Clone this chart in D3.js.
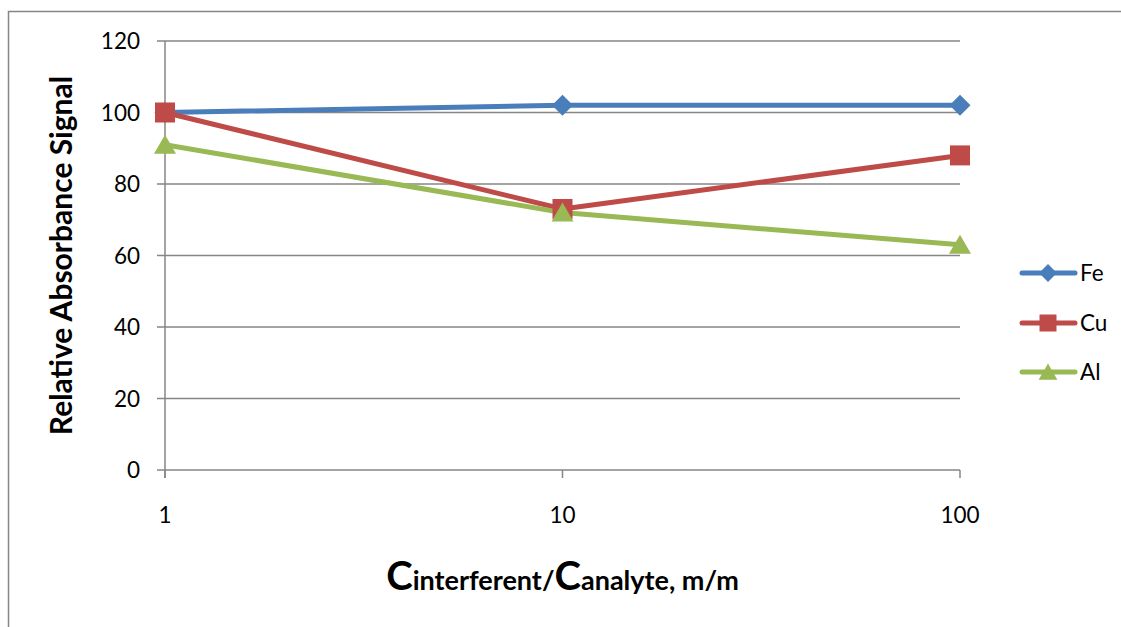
<!DOCTYPE html>
<html><head><meta charset="utf-8">
<script src="https://cdn.jsdelivr.net/npm/d3@7"></script>
<style>body{margin:0;background:#fff}svg{display:block}text{font-family:Lato,"Open Sans",sans-serif}</style>
</head><body>
<svg id="c" width="1121" height="627"></svg>
<script>
const xValues = [1, 10, 100];
const feValues = [100, 102, 102];
const cuValues = [100, 73, 88];
const alValues = [91, 72, 63];
const yTicks = [0, 20, 40, 60, 80, 100, 120];
const seriesNames = ["Fe", "Cu", "Al"];
const seriesColors = ["#4a7ebb", "#be4b48", "#98b954"];

const svg = d3.select("#c");
const x = d3.scaleLog().domain([1, 100]).range([165, 960]);
const y = d3.scaleLinear().domain([0, 120]).range([470, 41]);
const grid = "#868686";

svg.append("path").attr("d", "M8.5,640 V11.5 H1130").attr("fill", "none").attr("stroke", grid).attr("stroke-width", 1.5);

svg.append("g").selectAll("line").data(yTicks).join("line")
  .attr("x1", 157).attr("x2", 960).attr("y1", d => y(d)).attr("y2", d => y(d))
  .attr("stroke", grid).attr("stroke-width", 1.5);
svg.append("line").attr("x1", 165).attr("x2", 165).attr("y1", y(120)).attr("y2", 478)
  .attr("stroke", grid).attr("stroke-width", 1.5);
svg.append("g").selectAll("line").data(xValues).join("line")
  .attr("x1", d => x(d)).attr("x2", d => x(d)).attr("y1", 470).attr("y2", 478)
  .attr("stroke", grid).attr("stroke-width", 1.5);

svg.append("g").selectAll("text").data(yTicks).join("text")
  .attr("x", 140).attr("y", d => y(d)).attr("dy", "0.36em").attr("text-anchor", "end")
  .attr("font-size", 22.5).attr("fill", "#000").text(d => d);
svg.append("g").selectAll("text").data(xValues).join("text")
  .attr("x", d => x(d)).attr("y", 523).attr("text-anchor", "middle")
  .attr("font-size", 22.5).attr("fill", "#000").text(d => d);

svg.append("text").attr("transform", `translate(72,${(y(0)+y(120))/2}) rotate(-90)`)
  .attr("text-anchor", "middle").attr("font-size", 30).attr("font-weight", "bold").text("Relative Absorbance Signal");
const xt = svg.append("text").attr("x", x(10)).attr("y", 590).attr("text-anchor", "middle")
  .attr("font-weight", "bold").attr("font-size", 27);
xt.append("tspan").attr("font-size", 40).text("C");
xt.append("tspan").text("interferent/");
xt.append("tspan").attr("font-size", 40).text("C");
xt.append("tspan").text("analyte, m/m");

const series = [feValues, cuValues, alValues];
const line = d3.line().x((d, i) => x(xValues[i])).y(d => y(d));
const markerPaths = [
  "M0,-10.5L10.5,0L0,10.5L-10.5,0Z",
  "M-10,-10H10V10H-10Z",
  "M0,-10L11,9H-11Z"
];

series.forEach((vals, si) => {
  svg.append("path").datum(vals).attr("d", line).attr("fill", "none")
    .attr("stroke", seriesColors[si]).attr("stroke-width", 5).attr("stroke-linejoin", "round");
});
series.forEach((vals, si) => {
  svg.append("g").selectAll("path").data(vals).join("path")
    .attr("transform", (d, i) => `translate(${x(xValues[i])},${y(d)})`)
    .attr("d", markerPaths[si]).attr("fill", seriesColors[si]);
});

const legY = [273, 323, 372];
seriesNames.forEach((n, i) => {
  const g = svg.append("g");
  g.append("line").attr("x1", 1022).attr("x2", 1075).attr("y1", legY[i]).attr("y2", legY[i])
    .attr("stroke", seriesColors[i]).attr("stroke-width", 5).attr("stroke-linecap", "round");
  g.append("path").attr("transform", `translate(1048,${legY[i]}) scale(0.85)`)
    .attr("d", markerPaths[i]).attr("fill", seriesColors[i]);
  g.append("text").attr("x", 1080).attr("y", legY[i]).attr("dy", "0.36em")
    .attr("font-size", 22.5).text(n);
});
</script>
</body></html>
